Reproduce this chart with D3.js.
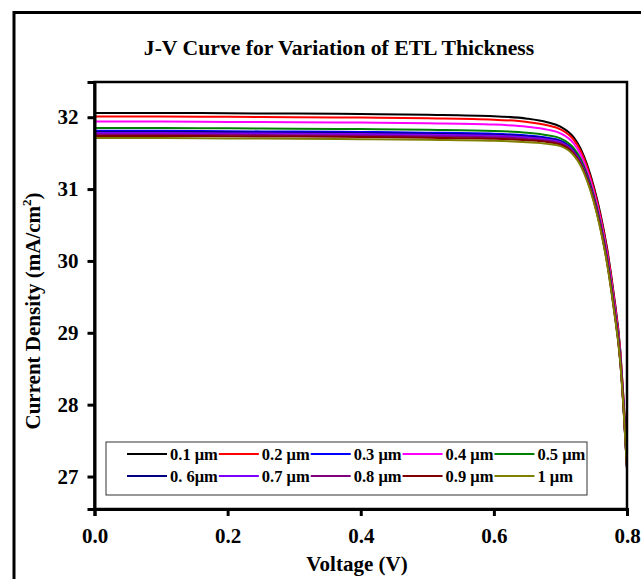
<!DOCTYPE html>
<html>
<head>
<meta charset="utf-8">
<script src="https://cdn.jsdelivr.net/npm/d3@7"></script>
<style>
    body { margin: 0; background: #fff; }
    text { font-family: "Liberation Serif", "Times New Roman", serif; font-weight: bold; }
</style>
</head>
<body>
<div id="chart"></div>
<script>
// voltage points shared by every curve (V)
const voltage = [0, 0.1, 0.2, 0.3, 0.4, 0.5, 0.6, 0.65, 0.68, 0.70, 0.72, 0.73, 0.74, 0.75, 0.76, 0.77, 0.78, 0.79, 0.795, 0.80];

// current density (mA/cm2) for each ETL thickness
const j01 = [32.06, 32.06, 32.055, 32.05, 32.045, 32.035, 32.015, 31.98, 31.93, 31.87, 31.72, 31.57, 31.34, 31.04, 30.66, 30.18, 29.55, 28.75, 28.05, 27.20];
const j02 = [32.01, 32.01, 32.005, 32.00, 31.995, 31.985, 31.966, 31.933, 31.887, 31.831, 31.684, 31.536, 31.308, 31.009, 30.629, 30.149, 29.52, 28.725, 28.03, 27.185];
const j03 = [31.81, 31.81, 31.805, 31.80, 31.795, 31.785, 31.77, 31.745, 31.715, 31.675, 31.54, 31.40, 31.18, 30.885, 30.505, 30.025, 29.40, 28.625, 27.95, 27.125];
const j04 = [31.94, 31.94, 31.935, 31.93, 31.925, 31.915, 31.897, 31.867, 31.827, 31.776, 31.634, 31.488, 31.263, 30.966, 30.586, 30.106, 29.478, 28.69, 28.002, 27.164];
const j05 = [31.85, 31.85, 31.845, 31.84, 31.835, 31.825, 31.809, 31.783, 31.749, 31.706, 31.569, 31.427, 31.206, 30.91, 30.53, 30.05, 29.424, 28.645, 27.966, 27.137];
const j06 = [31.795, 31.795, 31.79, 31.785, 31.78, 31.77, 31.755, 31.731, 31.702, 31.663, 31.529, 31.39, 31.17, 30.876, 30.496, 30.016, 29.391, 28.617, 27.944, 27.12];
const j07 = [31.78, 31.78, 31.775, 31.77, 31.765, 31.755, 31.741, 31.717, 31.689, 31.652, 31.518, 31.38, 31.161, 30.866, 30.486, 30.006, 29.382, 28.61, 27.938, 27.116];
const j08 = [31.76, 31.76, 31.755, 31.75, 31.745, 31.735, 31.721, 31.698, 31.672, 31.636, 31.504, 31.366, 31.148, 30.854, 30.474, 29.994, 29.37, 28.60, 27.93, 27.11];
const j09 = [31.74, 31.74, 31.735, 31.73, 31.725, 31.715, 31.701, 31.679, 31.655, 31.62, 31.49, 31.352, 31.135, 30.842, 30.462, 29.982, 29.358, 28.59, 27.922, 27.104];
const j10 = [31.71, 31.71, 31.705, 31.70, 31.695, 31.685, 31.672, 31.651, 31.629, 31.597, 31.468, 31.332, 31.116, 30.823, 30.443, 29.963, 29.34, 28.575, 27.91, 27.095];

const labels = ["0.1 μm", "0.2 μm", "0.3 μm", "0.4 μm", "0.5 μm", "0. 6μm", "0.7 μm", "0.8 μm", "0.9 μm", "1 μm"];
const colors = ["#000000", "#ff0000", "#0000ff", "#ff00ff", "#008000", "#000080", "#8000ff", "#800080", "#800000", "#808000"];
const values = [j01, j02, j03, j04, j05, j06, j07, j08, j09, j10];

const xTicks = [0, 0.2, 0.4, 0.6, 0.8];
const yTicks = [27, 28, 29, 30, 31, 32];

const width = 641;
const height = 579;
const plot = { left: 94.5, right: 627, top: 82, bottom: 509 };

const svg = d3.select("#chart")
    .append("svg")
    .attr("width", width)
    .attr("height", height);

// outer frame, runs off the right and bottom edges
svg.append("rect")
    .attr("x", 14)
    .attr("y", 12.5)
    .attr("width", 700)
    .attr("height", 700)
    .attr("fill", "#fff")
    .attr("stroke", "#000")
    .attr("stroke-width", 3);

svg.append("text")
    .attr("x", 339)
    .attr("y", 55)
    .attr("text-anchor", "middle")
    .attr("font-size", 21.7)
    .text("J-V Curve for Variation of ETL Thickness");

const xScale = d3.scaleLinear()
    .domain([0, 0.8])
    .range([plot.left, plot.right]);

const yScale = d3.scaleLinear()
    .domain([26.548, 32.49])
    .range([plot.bottom, plot.top]);

svg.append("defs").append("clipPath")
    .attr("id", "clip")
    .append("rect")
    .attr("x", plot.left)
    .attr("y", plot.top)
    .attr("width", plot.right - plot.left + 1)
    .attr("height", plot.bottom - plot.top);

const line = d3.line()
    .x(d => xScale(d.v))
    .y(d => yScale(d.j))
    .curve(d3.curveMonotoneX);

const curves = svg.append("g").attr("clip-path", "url(#clip)");

values.forEach((series, i) => {
    const data = voltage.map((v, k) => ({ v: v, j: series[k] }));
    curves.append("path")
        .datum(data)
        .attr("fill", "none")
        .attr("stroke", colors[i])
        .attr("stroke-width", 2)
        .attr("d", line);
});

// plot frame
svg.append("rect")
    .attr("x", plot.left)
    .attr("y", plot.top)
    .attr("width", plot.right - plot.left)
    .attr("height", plot.bottom - plot.top)
    .attr("fill", "none")
    .attr("stroke", "#000")
    .attr("stroke-width", 2.5);

const xAxis = d3.axisBottom(xScale)
    .tickValues(xTicks)
    .tickFormat(d3.format(".1f"))
    .tickSize(7)
    .tickPadding(12);

const yAxis = d3.axisLeft(yScale)
    .tickValues(yTicks)
    .tickFormat(d3.format("d"))
    .tickSize(7)
    .tickPadding(9);

const gx = svg.append("g")
    .attr("transform", `translate(0, ${plot.bottom})`)
    .call(xAxis);

const gy = svg.append("g")
    .attr("transform", `translate(${plot.left}, 0)`)
    .call(yAxis);

[gx, gy].forEach(g => {
    g.select(".domain").attr("stroke-width", 3);
    g.selectAll(".tick line").attr("stroke-width", 3);
    g.selectAll(".tick text")
        .attr("font-size", 21)
        .attr("font-family", "Liberation Serif, serif")
        .attr("font-weight", "bold");
});

svg.append("text")
    .attr("x", 357)
    .attr("y", 571)
    .attr("text-anchor", "middle")
    .attr("font-size", 21)
    .text("Voltage (V)");

const yTitle = svg.append("text")
    .attr("transform", "translate(40, 311) rotate(-90)")
    .attr("text-anchor", "middle")
    .attr("font-size", 21);
yTitle.append("tspan").text("Current Density (mA/cm");
yTitle.append("tspan").attr("font-size", 13).attr("dy", -9).text("2");
yTitle.append("tspan").attr("dy", 9).text(")");

// legend
const legend = svg.append("g");
legend.append("rect")
    .attr("x", 106)
    .attr("y", 442)
    .attr("width", 481)
    .attr("height", 53)
    .attr("fill", "#fff")
    .attr("stroke", "#333")
    .attr("stroke-width", 1);

const rowY = [454, 476];
const perRow = 5;
rowY.forEach((y, r) => {
    let x = 127;
    for (let c = 0; c < perRow; c++) {
        const i = r * perRow + c;
        legend.append("line")
            .attr("x1", x)
            .attr("x2", x + 40)
            .attr("y1", y)
            .attr("y2", y)
            .attr("stroke", colors[i])
            .attr("stroke-width", 2);
        const t = legend.append("text")
            .attr("x", x + 43)
            .attr("y", y + 6)
            .attr("font-size", 16.5)
            .text(labels[i]);
        x = x + 43 + t.node().getComputedTextLength() + 1;
    }
});
</script>
</body>
</html>
